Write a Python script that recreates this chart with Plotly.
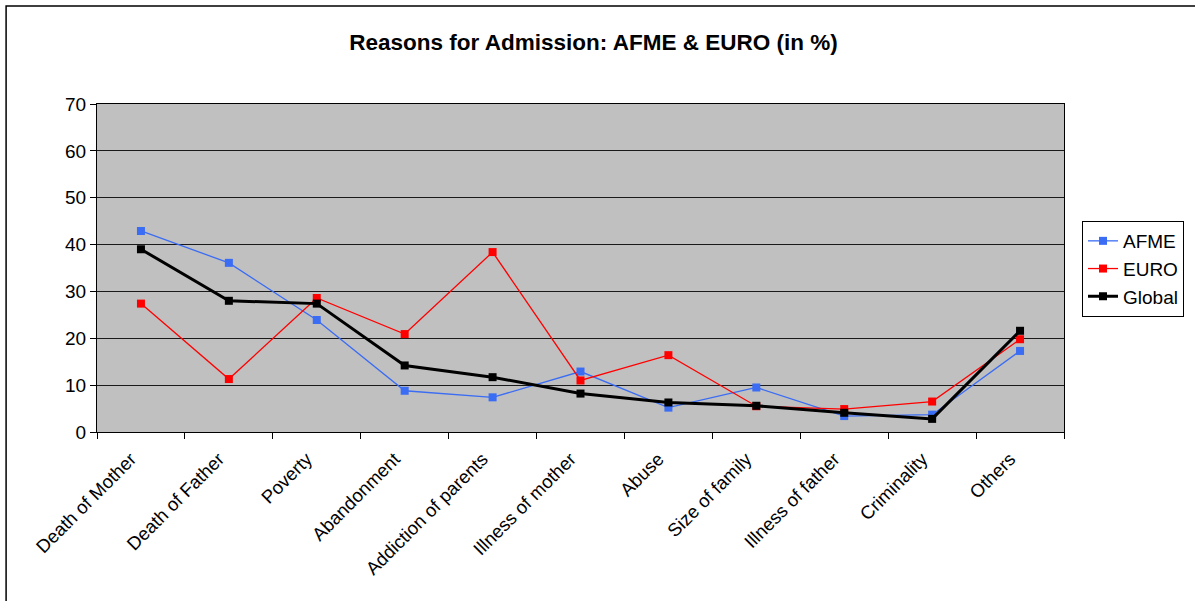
import plotly.graph_objects as go

categories = ["Death of Mother", "Death of Father", "Poverty", "Abandonment",
              "Addiction of parents", "Illness of mother", "Abuse", "Size of family",
              "Illness of father", "Criminality", "Others"]
afme = [42.9, 36.1, 23.9, 8.8, 7.4, 12.9, 5.2, 9.5, 3.4, 3.7, 17.3]
euro = [27.4, 11.3, 28.6, 20.9, 38.4, 11.0, 16.4, 5.5, 4.9, 6.5, 19.8]
global_ = [39.0, 28.0, 27.4, 14.2, 11.7, 8.2, 6.3, 5.6, 4.1, 2.8, 21.6]
y_ticks = [0, 10, 20, 30, 40, 50, 60, 70]

FONT = "Arial, Liberation Sans, sans-serif"

fig = go.Figure()
fig.add_trace(go.Scatter(x=categories, y=afme, name="AFME", mode="lines+markers",
                         line=dict(color="#3a6cf4", width=1.3),
                         marker=dict(symbol="square", size=8, color="#3a6cf4")))
fig.add_trace(go.Scatter(x=categories, y=euro, name="EURO", mode="lines+markers",
                         line=dict(color="#ff0000", width=1.3),
                         marker=dict(symbol="square", size=8, color="#ff0000")))
fig.add_trace(go.Scatter(x=categories, y=global_, name="Global", mode="lines+markers",
                         line=dict(color="#000000", width=3),
                         marker=dict(symbol="square", size=8, color="#000000")))

W, H = 1195, 601
L, T = 97, 104
R = W - 1065
B = H - 432
pw, ph = W - L - R, H - T - B

fig.update_layout(
    width=W, height=H,
    margin=dict(l=L, r=R, t=T, b=B),
    paper_bgcolor="white",
    plot_bgcolor="#c0c0c0",
    font=dict(family=FONT, size=18, color="black"),
    title=dict(text="<b>Reasons for Admission: AFME & EURO (in %)</b>",
               x=593.5 / W, xanchor="center", y=1 - 42 / H, yanchor="middle",
               font=dict(family=FONT, size=22.5, color="black")),
    showlegend=True,
    legend=dict(x=(1082 - L) / pw, xanchor="left", y=1 - (221 - T) / ph, yanchor="top",
                bordercolor="black", borderwidth=1, bgcolor="white",
                font=dict(family=FONT, size=19, color="black"),
                tracegroupgap=2, itemwidth=30),
    xaxis=dict(type="category", tickangle=-45, showgrid=False,
               showline=True, linecolor="black", linewidth=1, mirror=True,
               ticks="outside", ticklen=6, tickcolor="black", tickson="boundaries",
               tickfont=dict(family=FONT, size=18.5, color="black"),
               ticklabelshift=-10, ticklabelstandoff=8,
               range=[-0.5, len(categories) - 0.5]),
    yaxis=dict(range=[0, 70], tickvals=y_ticks, showgrid=True, gridcolor="#1a1a1a",
               gridwidth=1.3, showline=True, linecolor="black", linewidth=1, mirror=True,
               ticks="outside", ticklen=6, tickcolor="black", zeroline=False,
               tickfont=dict(family=FONT, size=19, color="black")),
    shapes=[dict(type="rect", xref="paper", yref="paper",
                 x0=(6 - L) / pw, x1=(1230 - L) / pw,
                 y0=(432 - 640) / ph, y1=1 + (T - 6) / ph,
                 line=dict(color="black", width=1.5), fillcolor="rgba(0,0,0,0)",
                 layer="below")],
)

fig.write_html("out.html",
               config={"displayModeBar": False},
               post_script="document.body.style.margin='0';document.body.style.padding='0';")
